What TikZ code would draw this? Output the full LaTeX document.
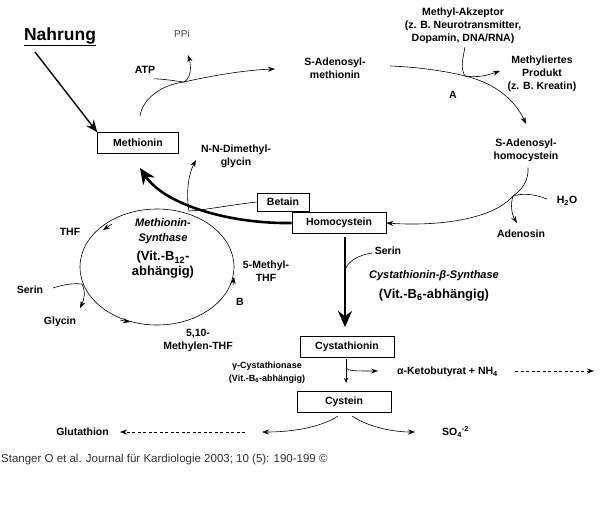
\documentclass[tikz,border=0pt]{standalone}
\usepackage{fontspec}
\setmainfont{Liberation Sans}
\usetikzlibrary{arrows.meta}
\begin{document}
\begin{tikzpicture}[x=1pt,y=-1pt,
  font=\fontsize{10.5}{13}\selectfont\bfseries,
  box/.style={draw, line width=0.6pt, minimum height=21pt, inner sep=0pt},
  lbl/.style={align=center, inner sep=0pt},
  thin arrow/.style={line width=0.6pt, -{Stealth[length=7pt,width=5pt]}},
  plain/.style={line width=0.6pt},
  thick arrow/.style={line width=2.6pt, -{Stealth[length=16pt,width=14pt]}},
  dash arrow/.style={line width=0.6pt, dashed, dash pattern=on 3pt off 2.5pt, -{Stealth[length=7pt,width=5pt]}}]
\useasboundingbox[fill=white] (0,0) rectangle (600,507);

% title
\node[lbl, font=\fontsize{17.5}{20}\selectfont\bfseries] (nahrung) at (60,37) {\underline{Nahrung}};

% boxes
\node[box, minimum width=81pt] (met) at (138,143) {Methionin};
\node[box, minimum width=94pt] (hcy) at (339,223) {Homocystein};
\node[box, minimum width=52pt, minimum height=18pt] (bet) at (283,202) {Betain};
\node[box, minimum width=94pt] (cysta) at (347,347) {Cystathionin};
\node[box, minimum width=94pt] (cys) at (344,402) {Cystein};

% labels
\node[lbl] (sam) at (335,68) {S-Adenosyl-\\methionin};
\node[lbl] (sah) at (526,150) {S-Adenosyl-\\homocystein};
\node[lbl] (akz) at (463,26) {Methyl-Akzeptor\\(z. B. Neurotransmitter,\\Dopamin, DNA/RNA)};
\node[lbl] (prod) at (542,74) {Methyliertes\\Produkt\\(z. B. Kreatin)};
\node[lbl] (A) at (453,95) {A};
\node[lbl] (atp) at (145,70) {ATP};
\node[lbl, font=\fontsize{10}{12}\selectfont, text=black!75] (ppi) at (182,34) {PPi};
\node[lbl] (h2o) at (567,201) {H\textsubscript{2}O};
\node[lbl] (ado) at (521,234) {Adenosin};
\node[lbl] (dmg) at (236,156) {N-N-Dimethyl-\\glycin};
\node[lbl, font=\fontsize{11}{15}\selectfont\bfseries\itshape] (ms1) at (163,231) {Methionin-\\Synthase};
\node[lbl, font=\fontsize{13}{15}\selectfont\bfseries] (ms2) at (163,265) {(Vit.-B\textsubscript{12}-\\abhängig)};
\node[lbl] (thf) at (70,232) {THF};
\node[lbl] (ser1) at (30,290) {Serin};
\node[lbl] (gly) at (60,322) {Glycin};
\node[lbl] (mthf) at (266,271) {5-Methyl-\\THF};
\node[lbl] (B) at (240,302) {B};
\node[lbl] (mythf) at (198,340) {5,10-\\Methylen-THF};
\node[lbl] (ser2) at (388,251) {Serin};
\node[lbl, font=\fontsize{11}{12}\selectfont\bfseries\itshape] (cbs) at (434,276) {Cystathionin-β-Synthase};
\node[lbl, font=\fontsize{13}{15}\selectfont\bfseries] (cbs2) at (434,295) {(Vit.-B\textsubscript{6}-abhängig)};
\node[lbl, font=\fontsize{9}{13}\selectfont\bfseries] (gcys) at (267,373) {γ-Cystathionase\\(Vit.-B\textsubscript{6}-abhängig)};
\node[lbl, anchor=west] (keto) at (397,372) {α-Ketobutyrat + NH\textsubscript{4}};
\node[lbl, anchor=east] (glut) at (109,432) {Glutathion};
\node[lbl, anchor=west] (so4) at (442,432) {SO\textsubscript{4}\textsuperscript{-2}};
\node[lbl, anchor=west, font=\fontsize{11.5}{12}\selectfont, text=black!80] (foot) at (1,460) {Stanger O et al. Journal für Kardiologie 2003; 10 (5): 190-199 ©};

% coordinates
\coordinate (nstart) at (35,52);
\coordinate (j1) at (184,82);
\coordinate (samend) at (275,69);
\coordinate (j2) at (465,76);
\coordinate (j3) at (513,196);
\coordinate (j4) at (189,211);
\coordinate (j5) at (82,284);
\coordinate (j6) at (346,268);
\coordinate (j7) at (346,368);
\coordinate (ketoend) at (378,371);
\coordinate (dk1) at (515,371);
\coordinate (dk2) at (594,371);
\coordinate (glutend) at (262,432);
\coordinate (dg1) at (245,432);
\coordinate (dg2) at (120,432);
\coordinate (soend) at (415,432);

% Nahrung -> Methionin
\draw[line width=1.4pt, -{Stealth[length=12pt,width=10pt]}] (nstart) -- (met.north west);

% Methionin -> SAM
\draw[thin arrow] (met.north) ++(2,-16) coordinate (m0)
  .. controls (142,100) and (160,85) .. (j1)
  .. controls (210,76) and (245,70) .. (samend);
\draw[plain] (atp.south east) ++(-2,5) .. controls (165,79) and (175,81) .. (j1);
\draw[thin arrow] (j1) .. controls (192,77) and (191,65) .. (188,55);

% SAM -> SAH
\draw[thin arrow] (390,66) .. controls (420,67) and (450,72) .. (j2)
  .. controls (495,83) and (515,100) .. (526,124);
\draw[plain] (akz.south) ++(2,3) .. controls (463,58) and (460,68) .. (j2);
\draw[thin arrow] (j2) .. controls (478,78) and (488,75) .. (500,71);

% SAH -> Homocystein
\draw[thin arrow] (sah.south) ++(2,6) .. controls (529,180) and (522,190) .. (j3)
  .. controls (490,222) and (430,226) .. (hcy.east);
\draw[plain] (547,199) .. controls (535,194) and (522,193) .. (j3);
\draw[thin arrow] (j3) .. controls (510,205) and (512,215) .. (517,223);

% Homocystein -> Methionin (thick)
\draw[thick arrow] (hcy.west) .. controls (230,224) and (165,205) .. (140,168);

% Betain
\draw[plain] (bet.west) .. controls (230,205) and (205,210) .. (j4);
\draw[thin arrow] (j4) .. controls (186,195) and (188,175) .. (196,160);

% cycle
\draw[line width=0.6pt] (157,267) ellipse [x radius=77, y radius=58];
\draw[thin arrow] (112,224) -- (103,230);
\draw[thin arrow] (120,320) -- (130,322);
\draw[thin arrow] (233,285) -- (234,277);
\draw[plain] (53,288) .. controls (62,285) and (72,283) .. (j5);
\draw[thin arrow] (j5) .. controls (86,292) and (84,300) .. (80,308);

% Homocystein -> Cystathionin
\draw[thick arrow] (hcy.south) ++(6,3) coordinate (h0) -- (345,327);
\draw[plain] (372,253) .. controls (358,255) and (348,262) .. (j6);

% Cystathionin -> Cystein
\draw[thin arrow, -{Stealth[length=5pt,width=4pt]}] (cysta.south) ++(-1,1) -- (346,383);
\draw[thin arrow] (j7) .. controls (348,371) and (355,371) .. (ketoend);
\draw[dash arrow] (dk1) -- (dk2);

% Cystein branches
\draw[thin arrow] (338,416) .. controls (320,428) and (290,432) .. (glutend);
\draw[thin arrow] (352,416) .. controls (370,428) and (395,432) .. (soend);
\draw[dash arrow] (dg1) -- (dg2);
\end{tikzpicture}
\end{document}
